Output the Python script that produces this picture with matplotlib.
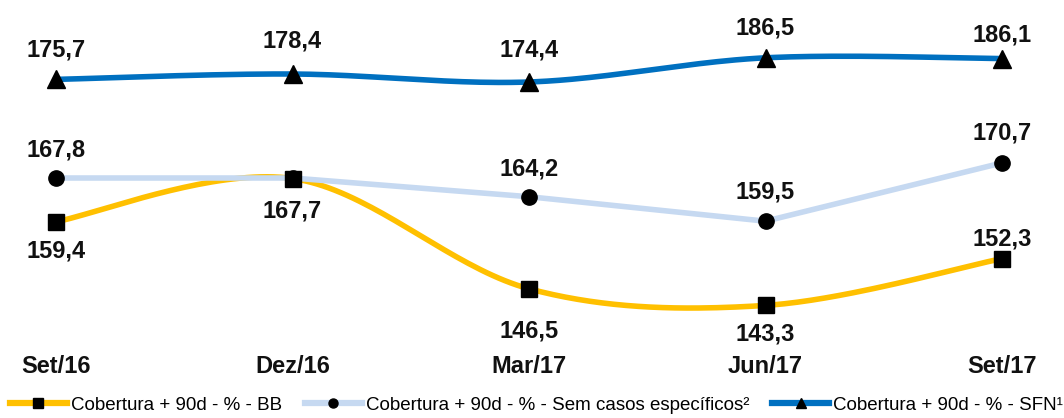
import matplotlib
matplotlib.use('Agg')
import matplotlib.pyplot as plt
from matplotlib.lines import Line2D
import numpy as np

# dados do gráfico
categorias = ['Set/16', 'Dez/16', 'Mar/17', 'Jun/17', 'Set/17']
bb = [159.4, 167.7, 146.5, 143.3, 152.3]
sem_casos = [167.8, 167.8, 164.2, 159.5, 170.7]
sfn = [175.7, 178.4, 174.4, 186.5, 186.1]
rotulos_sem_casos = ['167,8', '', '164,2', '159,5', '170,7']

leg_bb = 'Cobertura + 90d - % - BB'
leg_sem = 'Cobertura + 90d - % - Sem casos específicos²'
leg_sfn = 'Cobertura + 90d - % - SFN¹'

# deslocamento vertical dos rótulos (px, centro do texto em relação ao ponto)
desl_sfn = [31, 35, 34, 32, 26]
desl_sem = [30, 0, 30, 31, 32]
desl_bb = [-27, -30, -40, -27, 22]

AMARELO = '#FFC000'
AZUL_CLARO = '#C6D9F1'
AZUL = '#0070C0'

plt.rcParams['font.family'] = ['Liberation Sans', 'DejaVu Sans']


# curva suavizada (estilo Excel, Catmull-Rom)
def suavizar(x, y, n=40):
    x = np.asarray(x, float)
    y = np.asarray(y, float)
    px = np.concatenate([[x[0]], x, [x[-1]]])
    py = np.concatenate([[y[0]], y, [y[-1]]])
    xs, ys = [], []
    t = np.linspace(0, 1, n)
    for i in range(1, len(px) - 2):
        p0x, p1x, p2x, p3x = px[i - 1], px[i], px[i + 1], px[i + 2]
        p0y, p1y, p2y, p3y = py[i - 1], py[i], py[i + 1], py[i + 2]
        c1x = p1x + (p2x - p0x) / 6
        c1y = p1y + (p2y - p0y) / 6
        c2x = p2x - (p3x - p1x) / 6
        c2y = p2y - (p3y - p1y) / 6
        bx = (1 - t) ** 3 * p1x + 3 * (1 - t) ** 2 * t * c1x + 3 * (1 - t) * t ** 2 * c2x + t ** 3 * p2x
        by = (1 - t) ** 3 * p1y + 3 * (1 - t) ** 2 * t * c1y + 3 * (1 - t) * t ** 2 * c2y + t ** 3 * p2y
        xs.extend(bx)
        ys.extend(by)
    return np.array(xs), np.array(ys)


def fmt(v):
    return ('%.1f' % v).replace('.', ',')


fig = plt.figure(figsize=(10.64, 4.18), dpi=100)
ax = fig.add_axes([0, 0, 1, 1])
ax2 = ax.twinx()
for a in (ax, ax2):
    a.set_xlim(-0.2368, 4.262)
    a.axis('off')
ax.set_ylim(121.65, 202.03)
ax2.set_ylim(6.4, 215.4)

x = np.arange(len(categorias))

# BB (suavizada)
sx, sy = suavizar(x, bb)
ax.plot(sx, sy, color=AMARELO, lw=4, solid_capstyle='butt', zorder=2)
ax.plot(x, bb, ls='none', marker='s', ms=11, color='black', zorder=4)
# sem casos específicos (reta)
ax.plot(x, sem_casos, color=AZUL_CLARO, lw=4, solid_capstyle='butt', zorder=3)
ax.plot(x, sem_casos, ls='none', marker='o', ms=11, color='black', zorder=4)
# SFN (suavizada)
sx, sy = suavizar(x, sfn)
ax2.plot(sx, sy, color=AZUL, lw=4, solid_capstyle='butt', zorder=3)
ax2.plot(x, sfn, ls='none', marker='^', ms=13, color='black', zorder=4)

fonte = dict(fontsize=17, fontweight='bold', color='#111111', ha='center',
             va='baseline')
meia_altura = 8.5  # px, metade da altura dos dígitos


def rotulo(a, xi, v, txt, desl):
    a.annotate(txt, (xi, v), xytext=(0, (desl - meia_altura) * 0.72),
               textcoords='offset points', **fonte)


for i, v in enumerate(sfn):
    rotulo(ax2, x[i], v, fmt(v), desl_sfn[i])
for i, v in enumerate(sem_casos):
    if rotulos_sem_casos[i]:
        rotulo(ax, x[i], v, rotulos_sem_casos[i], desl_sem[i])
for i, v in enumerate(bb):
    rotulo(ax, x[i], v, fmt(v), desl_bb[i])

# categorias
for i, c in enumerate(categorias):
    ax.text(x[i], 1 - 373 / 418, c, transform=ax.get_xaxis_transform(), **fonte)

# legenda
h = [Line2D([], [], color=AMARELO, lw=4.5, marker='s', ms=7, mfc='black', mec='black'),
     Line2D([], [], color=AZUL_CLARO, lw=4.5, marker='o', ms=6.5, mfc='black', mec='black'),
     Line2D([], [], color=AZUL, lw=4.5, marker='^', ms=7.5, mfc='black', mec='black')]
fig.legend(h, [leg_bb, leg_sem, leg_sfn], loc='center', bbox_to_anchor=(0.504, 0.031),
           ncol=3, frameon=False, handlelength=3.04, handletextpad=0.2,
           columnspacing=1.23, borderpad=0, borderaxespad=0,
           prop={'size': 13.5})

fig.savefig('out.png', dpi=100)
